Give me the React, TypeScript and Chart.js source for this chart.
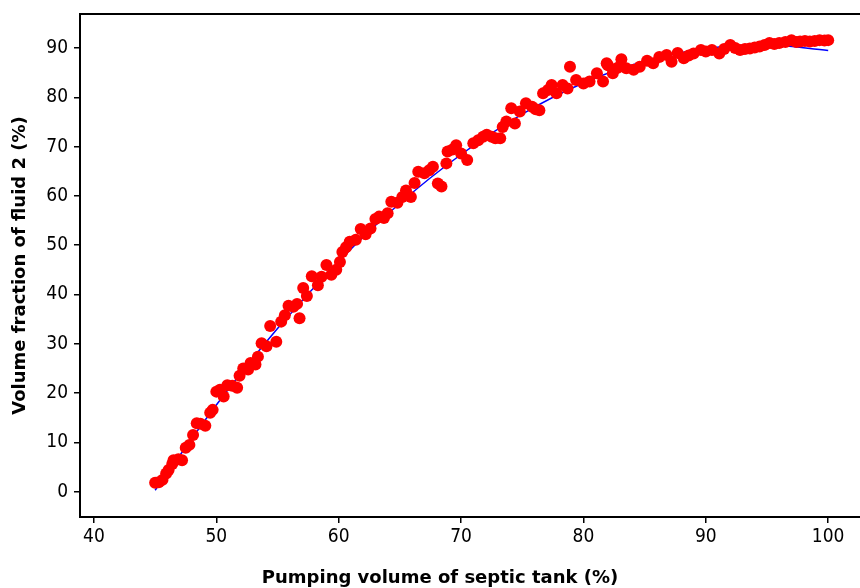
import { useEffect, useRef } from "react";
import { Chart, registerables } from "chart.js";

Chart.register(...registerables);

// Measured points: pumping volume (%) vs volume fraction of fluid 2 (%)
const pumpVolume = [
  45.0, 45.3, 45.6, 45.9, 46.1, 46.4, 46.5, 46.9, 47.2, 47.5, 47.8, 48.1, 48.4, 48.7, 49.1,
  49.5, 49.7, 50.0, 50.3, 50.6, 50.9, 51.3, 51.7, 51.9, 52.2, 52.6, 52.8, 53.2, 53.4, 53.7,
  54.1, 54.4, 54.9, 55.3, 55.6, 55.9, 56.3, 56.6, 56.8, 57.1, 57.4, 57.8, 58.3, 58.6, 59.0,
  59.4, 59.8, 60.1, 60.3, 60.6, 60.9, 61.4, 61.8, 62.2, 62.6, 63.0, 63.3, 63.7, 64.0, 64.3,
  64.8, 65.2, 65.5, 65.9, 66.2, 66.5, 67.0, 67.4, 67.7, 68.1, 68.4, 68.8, 68.9, 69.3, 69.6,
  70.0, 70.5, 71.0, 71.4, 71.8, 72.1, 72.5, 72.8, 73.2, 73.4, 73.7, 74.1, 74.4, 74.8, 75.3,
  75.8, 76.1, 76.4, 76.7, 77.1, 77.4, 77.8, 78.3, 78.7, 78.9, 79.4, 80.0, 80.5, 81.1, 81.6,
  81.9, 82.0, 82.4, 82.8, 83.1, 83.5, 84.1, 84.6, 85.2, 85.7, 86.2, 86.8, 87.2, 87.7, 88.2,
  88.6, 89.0, 89.6, 90.0, 90.5, 91.1, 91.5, 92.0, 92.4, 92.8, 93.2, 93.6, 94.0, 94.4, 94.8,
  95.2, 95.6, 96.0, 96.5, 97.0, 97.4, 97.7, 98.1, 98.5, 98.9, 99.3, 99.7, 100.0,
];
const fluidFraction = [
  1.8, 1.9, 2.4, 3.7, 4.4, 5.6, 6.4, 6.6, 6.4, 8.9, 9.5, 11.5, 13.9, 13.8, 13.4,
  16.0, 16.6, 20.3, 20.7, 19.3, 21.6, 21.5, 21.1, 23.5, 25.0, 24.8, 26.1, 25.8, 27.4, 30.1,
  29.5, 33.6, 30.4, 34.5, 35.8, 37.7, 37.5, 38.1, 35.2, 41.3, 39.7, 43.7, 41.9, 43.6, 46.0,
  44.0, 45.0, 46.6, 48.6, 49.6, 50.7, 51.1, 53.3, 52.2, 53.4, 55.3, 55.8, 55.5, 56.5, 58.8,
  58.6, 59.8, 61.1, 59.8, 62.6, 64.9, 64.6, 65.2, 65.9, 62.5, 61.9, 66.6, 69.0, 69.4, 70.3,
  68.6, 67.3, 70.7, 71.3, 72.0, 72.4, 72.0, 71.7, 71.7, 74.0, 75.1, 77.8, 74.7, 77.1, 78.8,
  78.1, 77.6, 77.4, 80.8, 81.5, 82.5, 80.8, 82.5, 81.8, 86.2, 83.5, 82.8, 83.2, 84.9, 83.2,
  86.9, 86.5, 84.9, 86.0, 87.7, 85.9, 85.6, 86.2, 87.4, 86.9, 88.2, 88.6, 87.2, 89.0, 87.9,
  88.5, 88.9, 89.6, 89.3, 89.6, 88.9, 89.8, 90.6, 90.0, 89.6, 89.8, 89.9, 90.1, 90.3, 90.6,
  91.0, 90.8, 91.0, 91.2, 91.6, 91.2, 91.3, 91.4, 91.3, 91.4, 91.6, 91.5, 91.6,
];

// Fitted trend line
const fitX = [45, 50, 55, 60, 65, 70, 75, 80, 85, 90, 95, 100];
const fitY = [0.3, 17.6, 33.1, 46.7, 58.5, 68.4, 76.6, 82.9, 87.3, 89.9, 90.6, 89.5];

const xTicks = [40, 50, 60, 70, 80, 90, 100];
const yTicks = [0, 10, 20, 30, 40, 50, 60, 70, 80, 90];

const xTitle = "Pumping volume of septic tank (%)";
const yTitle = "Volume fraction of fluid 2 (%)";

const tickFont = { family: "'DejaVu Sans Condensed', 'DejaVu Sans', sans-serif", size: 19 };
const titleFont = { family: "'DejaVu Sans', sans-serif", size: 18, weight: "bold" as const };

const frameAndTitle = {
  id: "frameAndTitle",
  afterDraw(chart: any) {
    const { ctx, chartArea } = chart;
    ctx.save();
    ctx.strokeStyle = "#000";
    ctx.lineWidth = 2;
    ctx.beginPath();
    ctx.moveTo(chartArea.left - 1, chartArea.top);
    ctx.lineTo(chartArea.right, chartArea.top);
    ctx.stroke();
    // x-axis title, centred under the figure as in the original
    ctx.fillStyle = "#000";
    ctx.font = `bold ${titleFont.size}px ${titleFont.family}`;
    ctx.textAlign = "center";
    ctx.textBaseline = "alphabetic";
    ctx.fillText(xTitle, chart.width / 2 + 10, chart.height - 5);
    ctx.restore();
  },
};

const zeroPadding = (s: any) => {
  s.paddingTop = 0;
  s.paddingBottom = 0;
  s.paddingLeft = 0;
  s.paddingRight = 0;
};

export default function App() {
  const canvasRef = useRef<HTMLCanvasElement | null>(null);

  useEffect(() => {
    if (!canvasRef.current) return;
    const chart = new Chart(canvasRef.current, {
      type: "scatter",
      data: {
        datasets: [
          {
            label: "Measured",
            data: pumpVolume.map((x, i) => ({ x, y: fluidFraction[i] })),
            backgroundColor: "#ff0000",
            borderColor: "#ff0000",
            pointRadius: 6,
            pointBorderWidth: 0,
            pointHoverRadius: 6,
            order: 1,
          },
          {
            label: "Fit",
            data: fitX.map((x, i) => ({ x, y: fitY[i] })),
            showLine: true,
            borderColor: "#0000ff",
            borderWidth: 1.5,
            pointRadius: 0,
            pointHoverRadius: 0,
            tension: 0.4,
            cubicInterpolationMode: "monotone",
            order: 2,
          } as any,
        ],
      },
      options: {
        animation: false,
        responsive: false,
        maintainAspectRatio: false,
        devicePixelRatio: 1,
        layout: { autoPadding: false, padding: { top: 14, right: 0, left: 0, bottom: 0 } },
        plugins: {
          legend: { display: false },
          tooltip: { enabled: false },
        },
        scales: {
          x: {
            type: "linear",
            min: 38.86,
            max: 102.6,
            afterBuildTicks: (s: any) => {
              s.ticks = xTicks.map((v) => ({ value: v }));
            },
            afterFit: (s: any) => {
              s.height = 71;
              zeroPadding(s);
            },
            grid: { drawOnChartArea: false, drawTicks: true, tickLength: 6, color: "#000", lineWidth: 1.5 },
            border: { display: true, color: "#000", width: 2 },
            ticks: { color: "#000", font: tickFont, padding: 3, maxRotation: 0 },
            title: { display: false, text: xTitle },
          },
          y: {
            type: "linear",
            min: -5.13,
            max: 96.9,
            afterBuildTicks: (s: any) => {
              s.ticks = yTicks.map((v) => ({ value: v }));
            },
            afterFit: (s: any) => {
              s.width = 80;
              zeroPadding(s);
            },
            grid: { drawOnChartArea: false, drawTicks: true, tickLength: 6, color: "#000", lineWidth: 1.5 },
            border: { display: true, color: "#000", width: 2 },
            ticks: { color: "#000", font: tickFont, padding: 6 },
            title: {
              display: true,
              text: yTitle,
              color: "#000",
              font: titleFont,
              padding: { top: 10, bottom: 0 },
            },
          },
        },
      },
      plugins: [frameAndTitle],
    });
    return () => chart.destroy();
  }, []);

  return (
    <div style={{ position: "absolute", left: 0, top: 0, width: 860, height: 588, overflow: "hidden" }}>
      <canvas ref={canvasRef} width={860} height={588} style={{ display: "block", width: 860, height: 588 }} />
    </div>
  );
}
